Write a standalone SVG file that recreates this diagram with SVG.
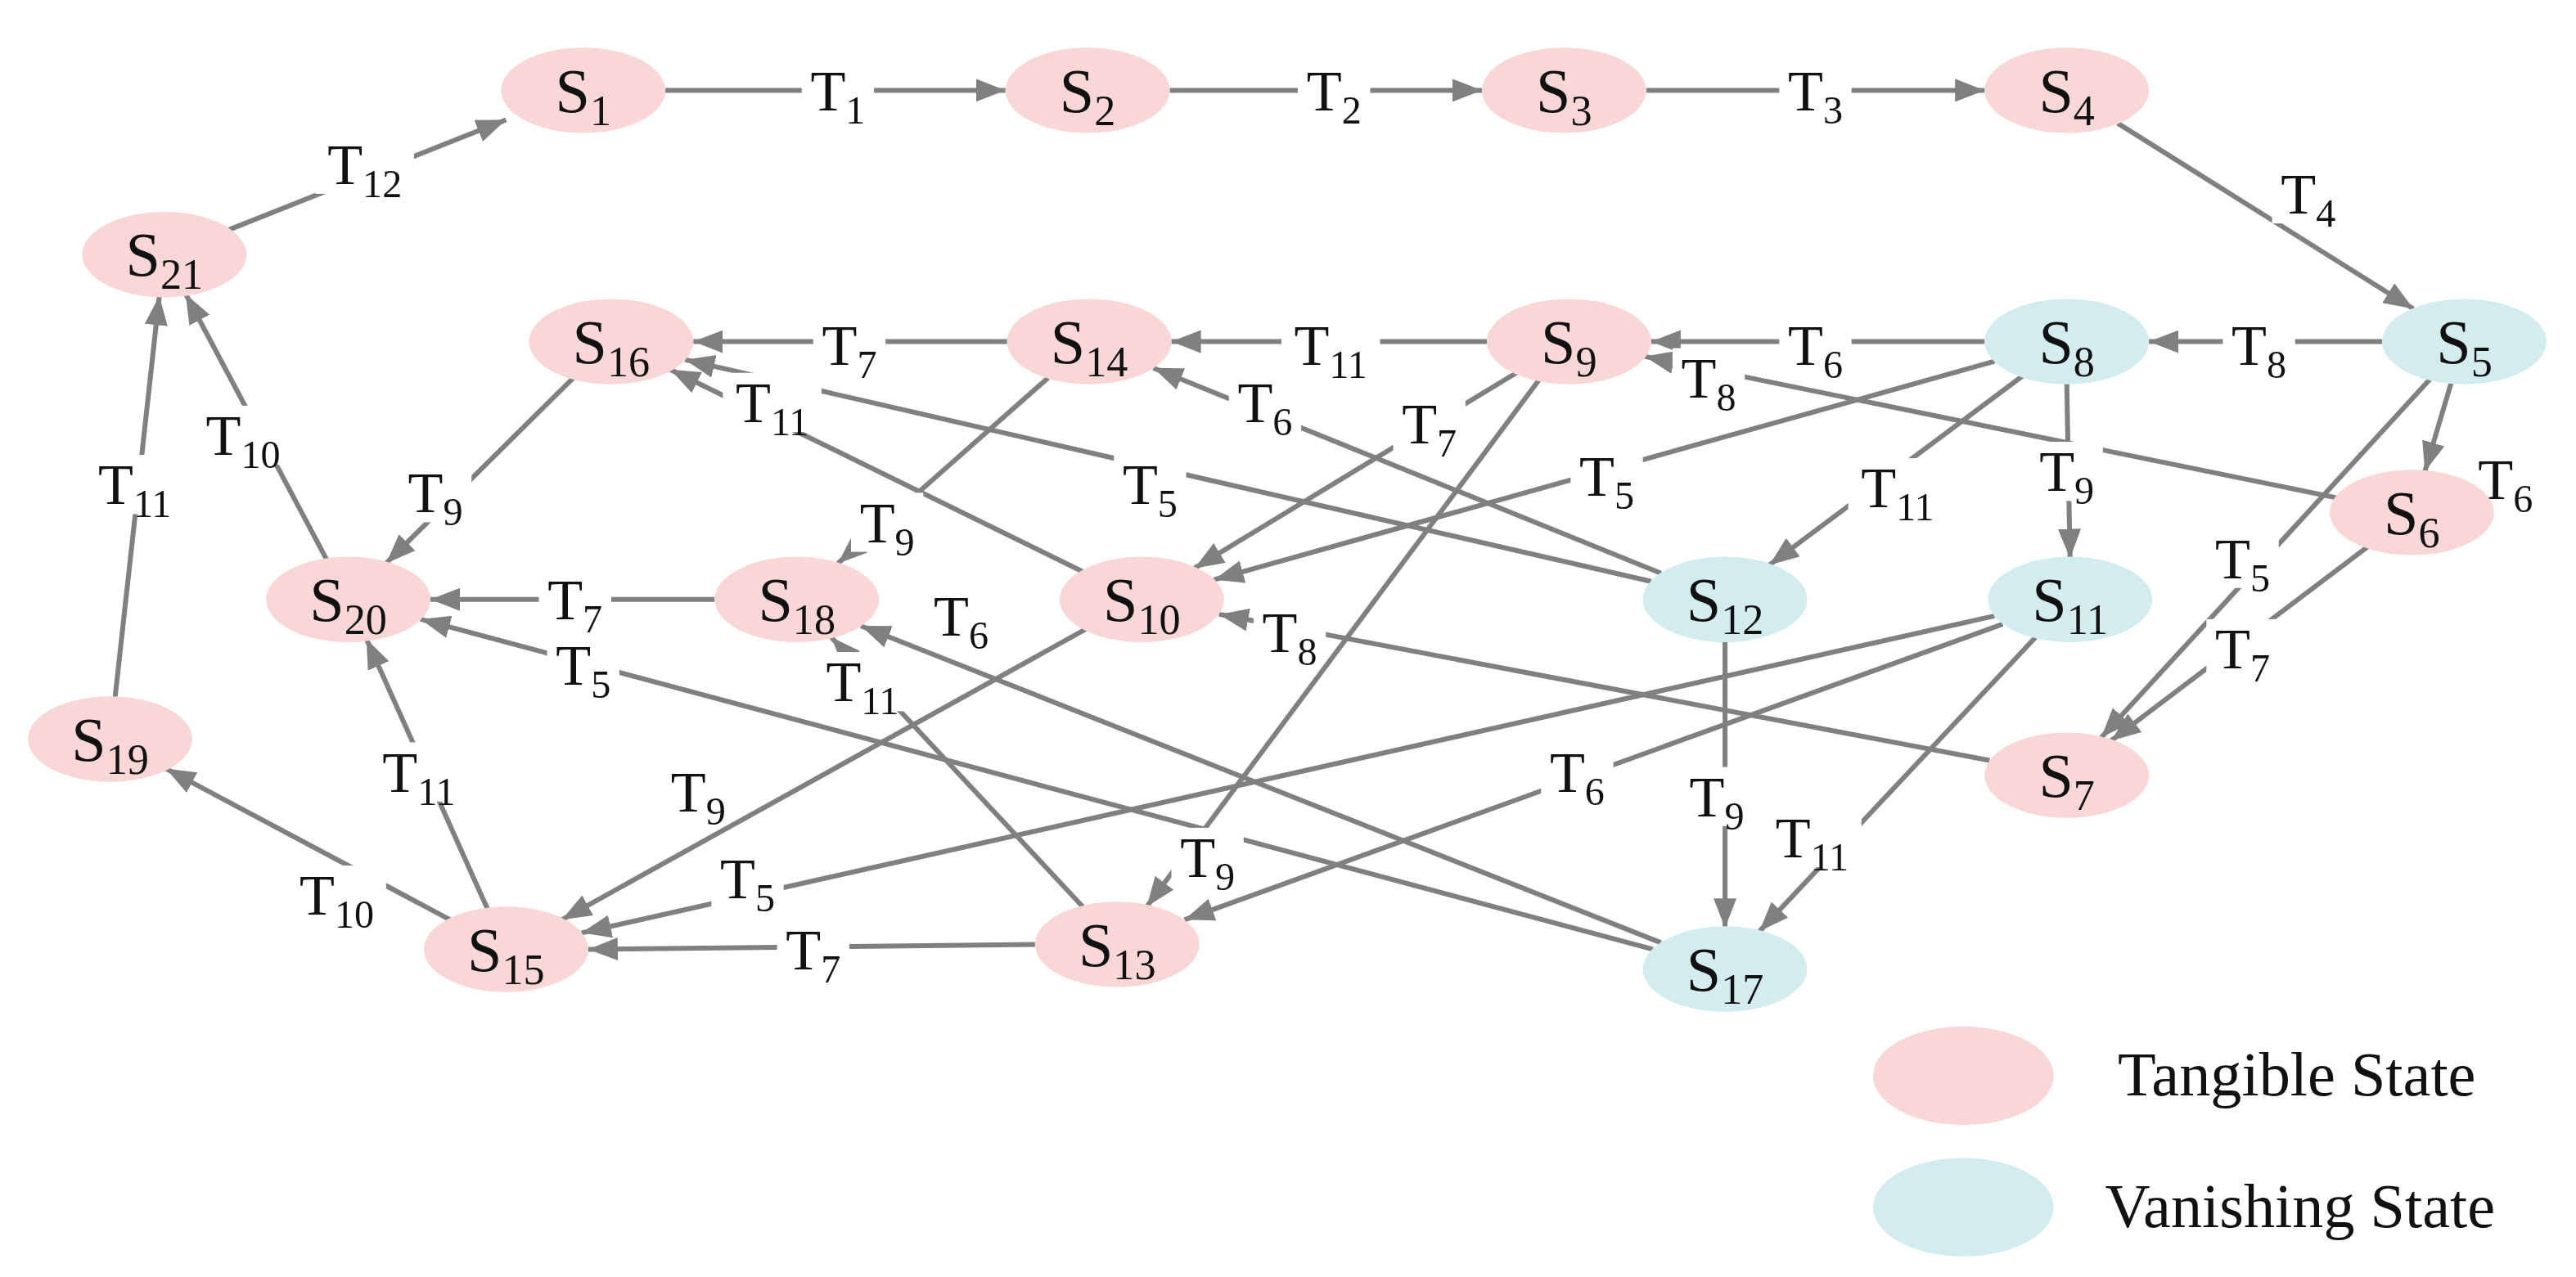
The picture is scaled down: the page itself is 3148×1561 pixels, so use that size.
<svg xmlns="http://www.w3.org/2000/svg" width="3148" height="1561" viewBox="0 0 3148 1561">
<style>
.t{fill:#F8D7D6}.v{fill:#D3ECF0}
text{font-family:"Liberation Serif","Times New Roman",serif;fill:#111;text-anchor:middle}
.n{font-size:38px}.l{font-size:35px}
.e line{stroke:#808080;stroke-width:3;marker-end:url(#a)}
.bg{fill:#fff}
</style>
<defs><marker id="a" markerUnits="userSpaceOnUse" markerWidth="20" markerHeight="16" refX="18" refY="7" orient="auto"><path d="M0,0 L18,7 L0,14 z" fill="#808080"/></marker></defs>
<rect width="3148" height="1561" fill="#fff"/>
<g transform="scale(2.0077)">
<g id="connectors" class="e">
<line x1="139" y1="140" x2="308" y2="73"/>
<line x1="405" y1="55" x2="612" y2="55"/>
<line x1="712" y1="55" x2="902" y2="55"/>
<line x1="1002" y1="55" x2="1208" y2="55"/>
<line x1="1289" y1="75" x2="1469" y2="188"/>
<line x1="1450" y1="208" x2="1308" y2="208"/>
<line x1="1208" y1="208" x2="1005" y2="208"/>
<line x1="905" y1="208" x2="713" y2="208"/>
<line x1="613" y1="208" x2="422" y2="208"/>
<line x1="349" y1="230" x2="235" y2="343"/>
<line x1="199" y1="341" x2="113" y2="179"/>
<line x1="70" y1="425" x2="97" y2="180"/>
<line x1="274" y1="560" x2="101" y2="468"/>
<line x1="297" y1="554" x2="223" y2="389"/>
<line x1="630" y1="575" x2="358" y2="578"/>
<line x1="435" y1="365" x2="262" y2="365"/>
<line x1="1492" y1="233" x2="1476" y2="287"/>
<line x1="1422" y1="303" x2="1001" y2="217"/>
<line x1="1479" y1="231" x2="1279" y2="449"/>
<line x1="1441" y1="333" x2="1285" y2="451"/>
<line x1="1214" y1="220" x2="739" y2="353"/>
<line x1="1231" y1="229" x2="1077" y2="344"/>
<line x1="1258" y1="233" x2="1260" y2="340"/>
<line x1="923" y1="227" x2="727" y2="346"/>
<line x1="937" y1="231" x2="698" y2="552"/>
<line x1="638" y1="230" x2="510" y2="343"/>
<line x1="1011" y1="349" x2="702" y2="224"/>
<line x1="1005" y1="354" x2="417" y2="219"/>
<line x1="659" y1="348" x2="408" y2="225"/>
<line x1="661" y1="383" x2="342" y2="560"/>
<line x1="1214" y1="375" x2="354" y2="568"/>
<line x1="1219" y1="380" x2="721" y2="560"/>
<line x1="1239" y1="388" x2="1071" y2="567"/>
<line x1="1050" y1="390" x2="1050" y2="565"/>
<line x1="1211" y1="463" x2="742" y2="374"/>
<line x1="1006" y1="578" x2="256" y2="377"/>
<line x1="1011" y1="574" x2="524" y2="381"/>
<line x1="659" y1="552" x2="506" y2="388"/>
</g>
<g id="labels">
<g id="lab-T12"><rect class="bg" x="192" y="82" width="60" height="36"/><text class="l" x="222" y="112">T<tspan dy="8" font-size="24">12</tspan></text></g>
<g><rect class="bg" x="488" y="37" width="44" height="36"/><text class="l" x="510" y="67">T<tspan dy="8" font-size="24">1</tspan></text></g>
<g><rect class="bg" x="790" y="37" width="44" height="36"/><text class="l" x="812" y="67">T<tspan dy="8" font-size="24">2</tspan></text></g>
<g><rect class="bg" x="1083" y="37" width="44" height="36"/><text class="l" x="1105" y="67">T<tspan dy="8" font-size="24">3</tspan></text></g>
<g><rect class="bg" x="1383" y="100" width="44" height="36"/><text class="l" x="1405" y="130">T<tspan dy="8" font-size="24">4</tspan></text></g>
<g><rect class="bg" x="1353" y="192" width="44" height="36"/><text class="l" x="1375" y="222">T<tspan dy="8" font-size="24">8</tspan></text></g>
<g><rect class="bg" x="1083" y="192" width="44" height="36"/><text class="l" x="1105" y="222">T<tspan dy="8" font-size="24">6</tspan></text></g>
<g><rect class="bg" x="780" y="192" width="60" height="36"/><text class="l" x="810" y="222">T<tspan dy="8" font-size="24">11</tspan></text></g>
<g><rect class="bg" x="495" y="192" width="44" height="36"/><text class="l" x="517" y="222">T<tspan dy="8" font-size="24">7</tspan></text></g>
<g><rect class="bg" x="243" y="282" width="44" height="36"/><text class="l" x="265" y="312">T<tspan dy="8" font-size="24">9</tspan></text></g>
<g><rect class="bg" x="118" y="247" width="60" height="36"/><text class="l" x="148" y="277">T<tspan dy="8" font-size="24">10</tspan></text></g>
<g><rect class="bg" x="52" y="277" width="60" height="36"/><text class="l" x="82" y="307">T<tspan dy="8" font-size="24">11</tspan></text></g>
<g><rect class="bg" x="175" y="527" width="60" height="36"/><text class="l" x="205" y="557">T<tspan dy="8" font-size="24">10</tspan></text></g>
<g><rect class="bg" x="225" y="452" width="60" height="36"/><text class="l" x="255" y="482">T<tspan dy="8" font-size="24">11</tspan></text></g>
<g><rect class="bg" x="473" y="560" width="44" height="36"/><text class="l" x="495" y="590">T<tspan dy="8" font-size="24">7</tspan></text></g>
<g><rect class="bg" x="328" y="347" width="44" height="36"/><text class="l" x="350" y="377">T<tspan dy="8" font-size="24">7</tspan></text></g>
<g><text class="l" x="1525" y="304">T<tspan dy="8" font-size="24">6</tspan></text></g>
<g><rect class="bg" x="1018" y="212" width="44" height="36"/><text class="l" x="1040" y="242">T<tspan dy="8" font-size="24">8</tspan></text></g>
<g><rect class="bg" x="1343" y="322" width="44" height="36"/><text class="l" x="1365" y="352">T<tspan dy="8" font-size="24">5</tspan></text></g>
<g><rect class="bg" x="1343" y="377" width="44" height="36"/><text class="l" x="1365" y="407">T<tspan dy="8" font-size="24">7</tspan></text></g>
<g><rect class="bg" x="956" y="272" width="44" height="36"/><text class="l" x="978" y="302">T<tspan dy="8" font-size="24">5</tspan></text></g>
<g><rect class="bg" x="1125" y="279" width="60" height="36"/><text class="l" x="1155" y="309">T<tspan dy="8" font-size="24">11</tspan></text></g>
<g><rect class="bg" x="1236" y="269" width="44" height="36"/><text class="l" x="1258" y="299">T<tspan dy="8" font-size="24">9</tspan></text></g>
<g><rect class="bg" x="848" y="240" width="44" height="36"/><text class="l" x="870" y="270">T<tspan dy="8" font-size="24">7</tspan></text></g>
<g><rect class="bg" x="713" y="504" width="44" height="36"/><text class="l" x="735" y="534">T<tspan dy="8" font-size="24">9</tspan></text></g>
<g><rect class="bg" x="518" y="300" width="44" height="36"/><text class="l" x="540" y="330">T<tspan dy="8" font-size="24">9</tspan></text></g>
<g><rect class="bg" x="748" y="227" width="44" height="36"/><text class="l" x="770" y="257">T<tspan dy="8" font-size="24">6</tspan></text></g>
<g><rect class="bg" x="678" y="277" width="44" height="36"/><text class="l" x="700" y="307">T<tspan dy="8" font-size="24">5</tspan></text></g>
<g><rect class="bg" x="440" y="227" width="60" height="36"/><text class="l" x="470" y="257">T<tspan dy="8" font-size="24">11</tspan></text></g>
<g><rect class="bg" x="403" y="464" width="44" height="36"/><text class="l" x="425" y="494">T<tspan dy="8" font-size="24">9</tspan></text></g>
<g><rect class="bg" x="433" y="517" width="44" height="36"/><text class="l" x="455" y="547">T<tspan dy="8" font-size="24">5</tspan></text></g>
<g><rect class="bg" x="938" y="452" width="44" height="36"/><text class="l" x="960" y="482">T<tspan dy="8" font-size="24">6</tspan></text></g>
<g><rect class="bg" x="1073" y="492" width="60" height="36"/><text class="l" x="1103" y="522">T<tspan dy="8" font-size="24">11</tspan></text></g>
<g><rect class="bg" x="1023" y="467" width="44" height="36"/><text class="l" x="1045" y="497">T<tspan dy="8" font-size="24">9</tspan></text></g>
<g><rect class="bg" x="763" y="367" width="44" height="36"/><text class="l" x="785" y="397">T<tspan dy="8" font-size="24">8</tspan></text></g>
<g><rect class="bg" x="333" y="387" width="44" height="36"/><text class="l" x="355" y="417">T<tspan dy="8" font-size="24">5</tspan></text></g>
<g><rect class="bg" x="563" y="357" width="44" height="36"/><text class="l" x="585" y="387">T<tspan dy="8" font-size="24">6</tspan></text></g>
<g><rect class="bg" x="495" y="397" width="60" height="36"/><text class="l" x="525" y="427">T<tspan dy="8" font-size="24">11</tspan></text></g>
</g>
<g id="S1"><ellipse class="t" cx="355" cy="55" rx="50" ry="26"/><text class="n" x="355" y="68">S<tspan dy="8" font-size="26">1</tspan></text></g>
<g id="S2"><ellipse class="t" cx="662" cy="55" rx="50" ry="26"/><text class="n" x="662" y="68">S<tspan dy="8" font-size="26">2</tspan></text></g>
<g id="S3"><ellipse class="t" cx="952" cy="55" rx="50" ry="26"/><text class="n" x="952" y="68">S<tspan dy="8" font-size="26">3</tspan></text></g>
<g id="S4"><ellipse class="t" cx="1258" cy="55" rx="50" ry="26"/><text class="n" x="1258" y="68">S<tspan dy="8" font-size="26">4</tspan></text></g>
<g id="S5"><ellipse class="v" cx="1500" cy="208" rx="50" ry="26"/><text class="n" x="1500" y="221">S<tspan dy="8" font-size="26">5</tspan></text></g>
<g id="S8"><ellipse class="v" cx="1258" cy="208" rx="50" ry="26"/><text class="n" x="1258" y="221">S<tspan dy="8" font-size="26">8</tspan></text></g>
<g id="S9"><ellipse class="t" cx="955" cy="208" rx="50" ry="26"/><text class="n" x="955" y="221">S<tspan dy="8" font-size="26">9</tspan></text></g>
<g id="S14"><ellipse class="t" cx="663" cy="208" rx="50" ry="26"/><text class="n" x="663" y="221">S<tspan dy="8" font-size="26">14</tspan></text></g>
<g id="S16"><ellipse class="t" cx="372" cy="208" rx="50" ry="26"/><text class="n" x="372" y="221">S<tspan dy="8" font-size="26">16</tspan></text></g>
<g id="S21"><ellipse class="t" cx="100" cy="155" rx="50" ry="26"/><text class="n" x="100" y="168">S<tspan dy="8" font-size="26">21</tspan></text></g>
<g id="S6"><ellipse class="t" cx="1468" cy="312" rx="50" ry="26"/><text class="n" x="1468" y="325">S<tspan dy="8" font-size="26">6</tspan></text></g>
<g id="S11"><ellipse class="v" cx="1260" cy="365" rx="50" ry="26"/><text class="n" x="1260" y="378">S<tspan dy="8" font-size="26">11</tspan></text></g>
<g id="S12"><ellipse class="v" cx="1050" cy="365" rx="50" ry="26"/><text class="n" x="1050" y="378">S<tspan dy="8" font-size="26">12</tspan></text></g>
<g id="S10"><ellipse class="t" cx="695" cy="365" rx="50" ry="26"/><text class="n" x="695" y="378">S<tspan dy="8" font-size="26">10</tspan></text></g>
<g id="S18"><ellipse class="t" cx="485" cy="365" rx="50" ry="26"/><text class="n" x="485" y="378">S<tspan dy="8" font-size="26">18</tspan></text></g>
<g id="S20"><ellipse class="t" cx="212" cy="365" rx="50" ry="26"/><text class="n" x="212" y="378">S<tspan dy="8" font-size="26">20</tspan></text></g>
<g id="S19"><ellipse class="t" cx="67" cy="450" rx="50" ry="26"/><text class="n" x="67" y="463">S<tspan dy="8" font-size="26">19</tspan></text></g>
<g id="S7"><ellipse class="t" cx="1258" cy="472" rx="50" ry="26"/><text class="n" x="1258" y="485">S<tspan dy="8" font-size="26">7</tspan></text></g>
<g id="S15"><ellipse class="t" cx="308" cy="578" rx="50" ry="26"/><text class="n" x="308" y="591">S<tspan dy="8" font-size="26">15</tspan></text></g>
<g id="S13"><ellipse class="t" cx="680" cy="575" rx="50" ry="26"/><text class="n" x="680" y="588">S<tspan dy="8" font-size="26">13</tspan></text></g>
<g id="S17"><ellipse class="v" cx="1050" cy="590" rx="50" ry="26"/><text class="n" x="1050" y="603">S<tspan dy="8" font-size="26">17</tspan></text></g>
<g id="legend">
<ellipse class="t" cx="1195" cy="655" rx="55" ry="30"/><text class="n" x="1398" y="667">Tangible State</text>
<ellipse class="v" cx="1195" cy="735" rx="55" ry="30"/><text class="n" x="1400" y="747">Vanishing State</text>
</g>
</g>
</svg>
